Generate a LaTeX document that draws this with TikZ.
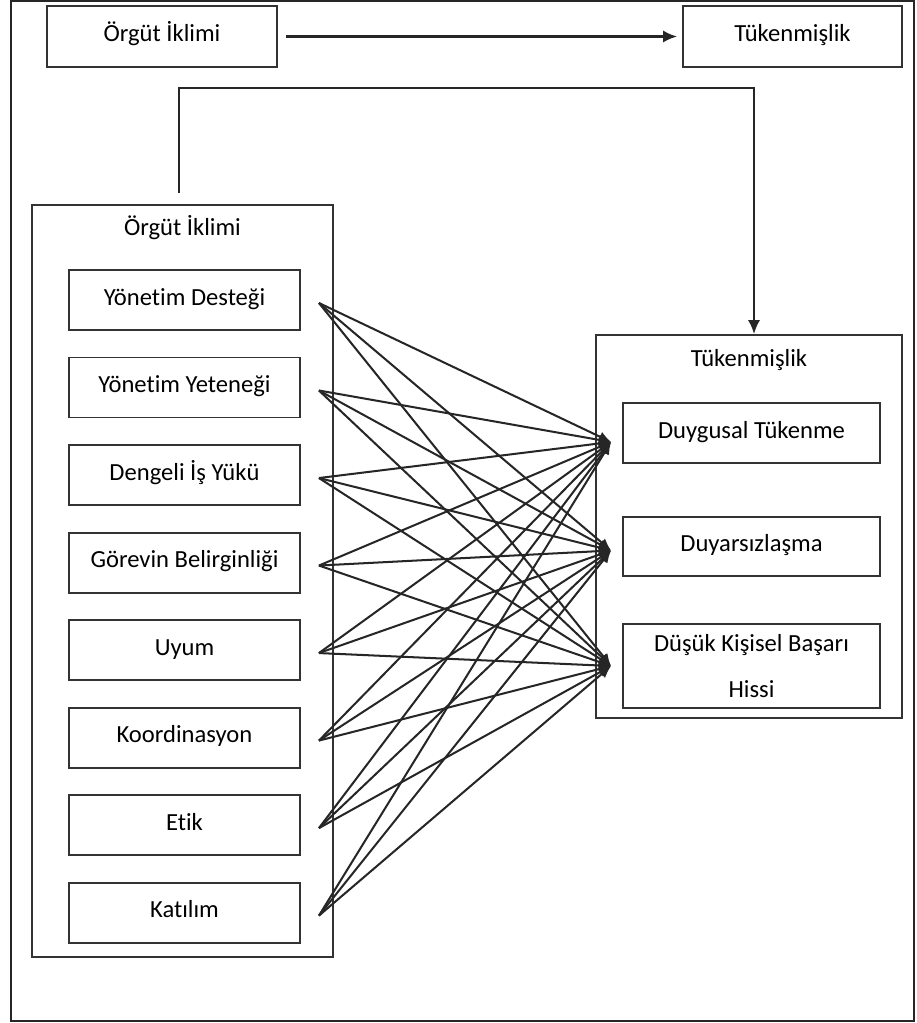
\documentclass[tikz,border=0pt]{standalone}
\usepackage{fontspec}
\setmainfont{Carlito}[Ligatures=NoCommon]
\usetikzlibrary{
    arrows.meta,
    positioning,
    calc
}
\tikzstyle{frame} = [
    rectangle,
    draw=black!80,
    line width=1.1pt,
    inner sep=0pt
]
\tikzstyle{factor} = [
    rectangle,
    draw=black!80,
    line width=1.1pt,
    minimum width=4.62cm,
    minimum height=1.2cm,
    text height=10pt,
    text depth=4pt,
    text centered,
    font=\fontsize{14}{17}\selectfont
]
\tikzstyle{dim} = [
    factor,
    minimum width=5.14cm
]
\tikzstyle{title} = [
    font=\fontsize{14}{17}\selectfont
]
\tikzstyle{arrow} = [
    -{Latex[length=8pt,width=7pt]},
    line width=1.3pt,
    draw=black!85
]
\tikzstyle{link} = [
    -{Latex[length=7pt,width=6pt]},
    line width=1.15pt,
    draw=black!85
]

\begin{document}
\begin{tikzpicture}[x=0.02cm, y=-0.02cm]
    \useasboundingbox (0,0) rectangle (916,1023);
    % Outer frame
    \draw[black!85, line width=1.1pt] (11,1) rectangle (914,1021);

    % Top row
    \node[factor, minimum width=4.6cm, minimum height=1.22cm] (climatetop) at (162,36.5) {Örgüt İklimi};
    \node[factor, minimum width=4.38cm, minimum height=1.22cm] (burnouttop) at (792.5,36.5) {Tükenmişlik};
    \draw[arrow] ([xshift=0.16cm]climatetop.east) -- ([xshift=-0.1cm]burnouttop.west);

    % Containers
    \node[frame, minimum width=6.02cm, minimum height=15.04cm] (climate) at (182.5,581) {};
    \node[title] (climatetitle) at (182.5,228) {Örgüt İklimi};
    \node[frame, minimum width=6.12cm, minimum height=7.66cm] (burnout) at (749,526.5) {};
    \node[title] (burnouttitle) at (749,360) {Tükenmişlik};

    % Climate dimensions
    \node[factor] (c1) at (184.5,300) {Yönetim Desteği};
    \node[factor, below=0.512cm of c1] (c2) {Yönetim Yeteneği};
    \node[factor, below=0.512cm of c2] (c3) {Dengeli İş Yükü};
    \node[factor, below=0.512cm of c3] (c4) {Görevin Belirginliği};
    \node[factor, below=0.512cm of c4] (c5) {Uyum};
    \node[factor, below=0.512cm of c5] (c6) {Koordinasyon};
    \node[factor, below=0.512cm of c6] (c7) {Etik};
    \node[factor, below=0.512cm of c7] (c8) {Katılım};

    % Burnout dimensions
    \node[dim] (b1) at (751.5,433) {Duygusal Tükenme};
    \node[dim, minimum height=1.18cm] (b2) at (751.5,546.5) {Duyarsızlaşma};
    \node[dim, minimum height=1.68cm, align=center, text height=, text depth=] (b3) at (751.5,666) {Düşük Kişisel Başarı\\[9pt]Hissi};

    % Link from climate to burnout
    \coordinate (lnk) at (179,193);
    \coordinate (bend) at (754,88);
    \draw[arrow] (lnk) |- (bend) -- (bend |- burnout.north);

    % Cross links
    \foreach \s in {1,...,8}
        \coordinate (s\s) at ([xshift=0.36cm,yshift=-0.06cm]c\s.east);
    \coordinate (t1) at ([xshift=-0.22cm,yshift=-0.18cm]b1.west);
    \coordinate (t2) at ([xshift=-0.22cm,yshift=-0.08cm]b2.west);
    \coordinate (t3) at ([xshift=-0.22cm]b3.west);
    \foreach \s in {1,...,8}
        \foreach \t in {1,2,3}
            \draw[link] (s\s) -- (t\t);
\end{tikzpicture}
\end{document}
